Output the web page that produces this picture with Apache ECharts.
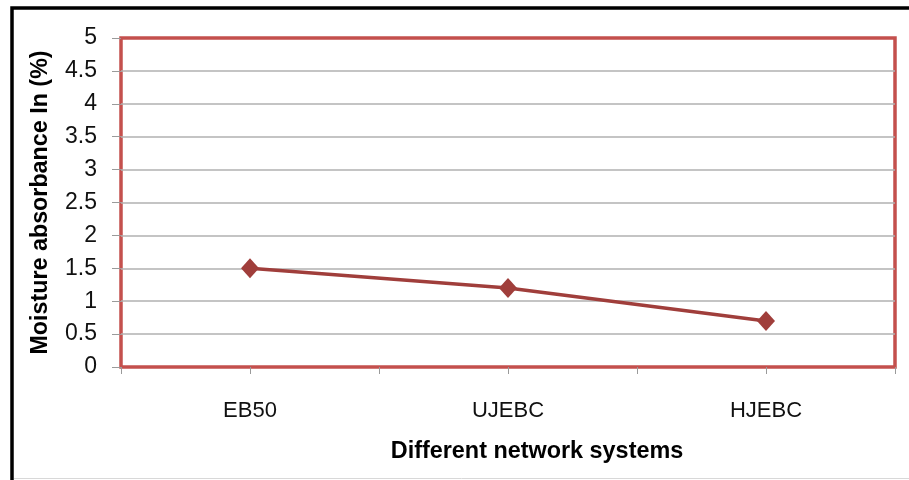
<!DOCTYPE html>
<html>
<head>
<meta charset="utf-8">
<style>
  html, body { margin: 0; padding: 0; background: #fff; }
  #chart { width: 909px; height: 480px; }
</style>
<script src="https://cdn.jsdelivr.net/npm/echarts@6/dist/echarts.min.js"></script>
</head>
<body>
<div id="chart"></div>
<script>
// Moisture absorbance per network system
const categories = ['EB50', 'UJEBC', 'HJEBC'];
const moisture = [1.5, 1.2, 0.7];
const halfSteps = ['', '', '', '', '', ''];   // tick marks at category centres and borders

const FONT = "'Liberation Sans', Arial, sans-serif";
const chart = echarts.init(document.getElementById('chart'), null, { renderer: 'canvas' });

chart.setOption({
  animation: false,
  backgroundColor: '#ffffff',
  grid: {
    left: 121, right: 14, top: 38, bottom: 113,
    show: true,
    borderColor: '#c4504d',
    borderWidth: 3.5,
    backgroundColor: 'transparent'
  },
  xAxis: [
    {
      type: 'category',
      data: categories,
      boundaryGap: true,
      axisLine: { show: false },
      axisTick: { show: true, length: 7, lineStyle: { color: '#9a9a9a', width: 1 } },
      axisLabel: { margin: 33, color: '#111', fontFamily: FONT, fontSize: 22 },
      name: 'Different network systems',
      nameLocation: 'middle',
      nameGap: 73,
      nameTextStyle: {
        color: '#000', fontFamily: FONT, fontSize: 23.4, fontWeight: 'bold',
        padding: [0, 0, 0, 58]
      }
    },
    {
      type: 'category',
      data: halfSteps,
      position: 'bottom',
      boundaryGap: true,
      axisLine: { show: false },
      axisTick: { show: true, length: 7, lineStyle: { color: '#9a9a9a', width: 1 } },
      axisLabel: { show: false },
      splitLine: { show: false }
    }
  ],
  yAxis: {
    type: 'value',
    min: 0, max: 5, interval: 0.5,
    axisLine: { show: false },
    axisTick: { show: true, length: 9, lineStyle: { color: '#9a9a9a', width: 1 } },
    axisLabel: { margin: 24, color: '#111', fontFamily: FONT, fontSize: 23 },
    splitLine: {
      show: true, showMinLine: false, showMaxLine: false,
      lineStyle: { color: '#b0b0b0', width: 1.5 }
    },
    name: 'Moisture absorbance In (%)',
    nameLocation: 'middle',
    nameGap: 69,
    nameTextStyle: { color: '#000', fontFamily: FONT, fontSize: 23.3, fontWeight: 'bold' }
  },
  series: [{
    type: 'line',
    xAxisIndex: 0,
    data: moisture,
    symbol: 'diamond',
    symbolSize: [18, 20],
    lineStyle: { color: '#a03e3b', width: 3.5 },
    itemStyle: { color: '#a03e3b' },
    z: 5
  }],
  graphic: [
    {
      type: 'rect',
      shape: { x: 12, y: 8, width: 940, height: 520 },
      style: { fill: null, stroke: '#000', lineWidth: 3.5 },
      silent: true
    },
    {
      type: 'line',
      shape: { x1: 14, y1: 478.5, x2: 909, y2: 478.5 },
      style: { stroke: '#d8d8d8', lineWidth: 1 },
      silent: true
    }
  ]
});
</script>
</body>
</html>
